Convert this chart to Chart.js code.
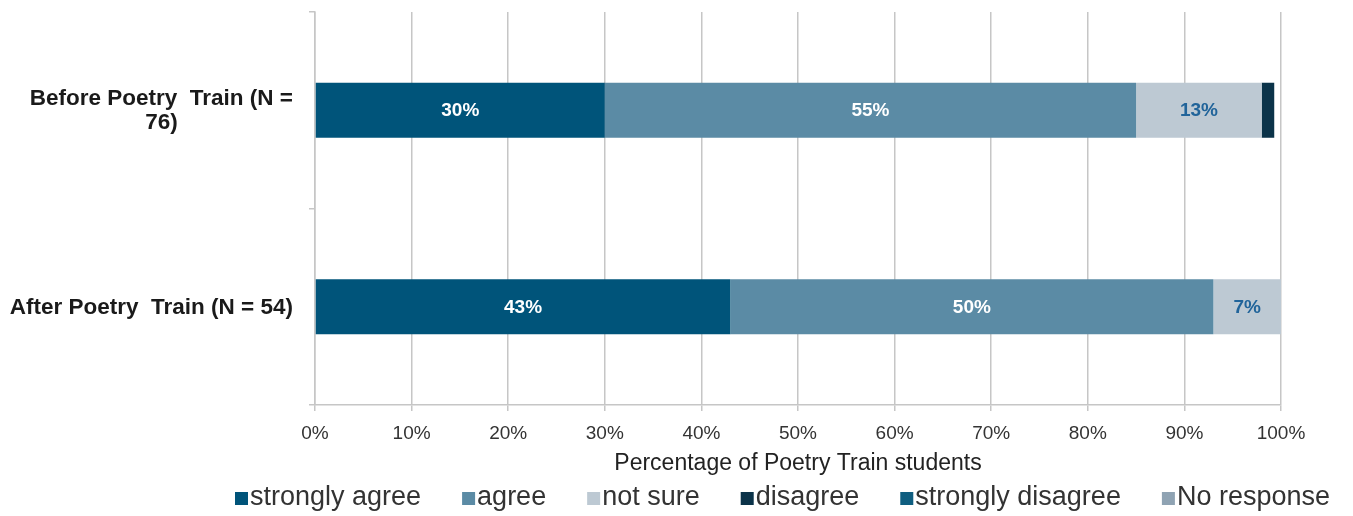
<!DOCTYPE html>
<html>
<head>
<meta charset="utf-8">
<script src="https://cdn.jsdelivr.net/npm/chart.js@4"></script>
<style>
	html, body { margin: 0; padding: 0; background: #fff; }
	#wrap { width: 1353px; height: 516px; }
</style>
</head>
<body>
<div id="wrap"><canvas id="myChart"></canvas></div>
<script>
const groups = [['Before Poetry  Train (N =', '76)'], ['After Poetry  Train (N = 54)']];
const responses = ['strongly agree', 'agree', 'not sure', 'disagree', 'strongly disagree', 'No response'];
const stronglyAgree = [30, 43];
const agree = [55, 50];
const notSure = [13, 7];
const disagree = [1.3, 0];
const stronglyDisagree = [0, 0];
const noResponse = [0, 0];
const xTicks = [0, 10, 20, 30, 40, 50, 60, 70, 80, 90, 100];

const FONT = '"Liberation Sans", Arial, sans-serif';
const series = [stronglyAgree, agree, notSure, disagree, stronglyDisagree, noResponse];
const barColors = ['#00547a', '#5b8ba5', '#bdc9d3', '#0b3349', '#0f5e80', '#8fa3b3'];
const labelColors = ['#ffffff', '#ffffff', '#21649a', null, null, null];

// value labels in the middle of each segment
const segmentLabels = {
	id: 'segmentLabels',
	afterDatasetsDraw(chart) {
		const ctx = chart.ctx;
		ctx.save();
		ctx.font = 'bold 19px ' + FONT;
		ctx.textAlign = 'center';
		ctx.textBaseline = 'middle';
		chart.data.datasets.forEach((ds, i) => {
			if (!labelColors[i]) return;
			chart.getDatasetMeta(i).data.forEach((bar, j) => {
				const v = ds.data[j];
				if (v < 5) return;
				ctx.fillStyle = labelColors[i];
				ctx.fillText(Math.round(v) + '%', (bar.x + bar.base) / 2, bar.y + 1);
			});
		});
		ctx.restore();
	}
};

// category labels: right aligned block, lines centered in the block
const groupLabels = {
	id: 'groupLabels',
	afterDraw(chart) {
		const ctx = chart.ctx;
		const y = chart.scales.y;
		ctx.save();
		ctx.font = 'bold 22.5px ' + FONT;
		ctx.fillStyle = '#1a1a1a';
		ctx.textAlign = 'center';
		ctx.textBaseline = 'middle';
		groups.forEach((lines, i) => {
			const w = Math.max(...lines.map(l => ctx.measureText(l).width));
			const cx = 293 - w / 2;
			const cy = y.getPixelForValue(i) + 1;
			const lh = 24;
			lines.forEach((l, k) => {
				ctx.fillText(l, cx, cy + (k - (lines.length - 1) / 2) * lh);
			});
		});
		ctx.restore();
	}
};

// legend row along the bottom, wide spacing like the original
const bottomLegend = {
	id: 'bottomLegend',
	afterDraw(chart) {
		const ctx = chart.ctx;
		ctx.save();
		ctx.font = '27px ' + FONT;
		ctx.textBaseline = 'middle';
		ctx.textAlign = 'left';
		let x = 235;
		const cy = 498;
		chart.data.datasets.forEach(ds => {
			ctx.fillStyle = ds.backgroundColor;
			ctx.fillRect(x, cy - 6, 13, 13);
			ctx.fillStyle = '#333';
			ctx.fillText(ds.label, x + 15, cy);
			x += 15 + ctx.measureText(ds.label).width + 41;
		});
		ctx.restore();
	}
};

new Chart(document.getElementById('myChart'), {
	type: 'bar',
	data: {
		labels: groups,
		datasets: responses.map((r, i) => ({
			label: r,
			data: series[i],
			backgroundColor: barColors[i],
			borderWidth: 0,
			barPercentage: 0.28,
			categoryPercentage: 1
		}))
	},
	options: {
		indexAxis: 'y',
		responsive: true,
		maintainAspectRatio: false,
		animation: false,
		layout: { padding: { top: 12, right: 72, left: 0, bottom: 39 } },
		plugins: {
			legend: { display: false },
			tooltip: { enabled: false }
		},
		scales: {
			x: {
				stacked: true,
				min: 0,
				max: 100,
				afterBuildTicks: scale => { scale.ticks = xTicks.map(v => ({ value: v })); },
				afterFit: scale => { scale.height = 72; },
				border: { color: '#c6c6c6', width: 1.5 },
				grid: { color: '#c6c6c6', lineWidth: 1.5, tickLength: 6 },
				ticks: {
					padding: 11,
					color: '#333',
					font: { family: FONT, size: 19 },
					callback: v => v + '%'
				},
				title: {
					display: true,
					text: 'Percentage of Poetry Train students',
					color: '#222',
					padding: { top: 0, bottom: 0 },
					font: { family: FONT, size: 23 }
				}
			},
			y: {
				stacked: true,
				afterFit: scale => { scale.width = 315; },
				border: { color: '#c6c6c6', width: 1.5 },
				grid: { offset: true, drawOnChartArea: false, color: '#c6c6c6', lineWidth: 1.5, tickLength: 6 },
				ticks: { display: false }
			}
		}
	},
	plugins: [segmentLabels, groupLabels, bottomLegend]
});
</script>
</body>
</html>
